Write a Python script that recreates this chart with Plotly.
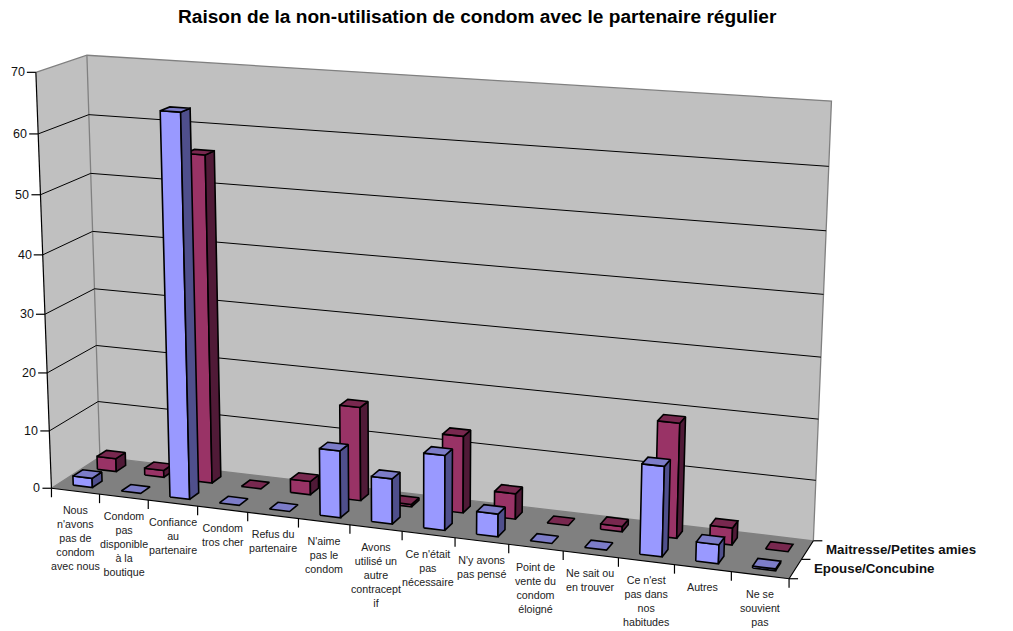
import numpy as np
import plotly.graph_objects as go

TITLE = "Raison de la non-utilisation de condom avec le partenaire régulier"
categories = [
    "Nous<br>n'avons<br>pas de<br>condom<br>avec nous",
    "Condom<br>pas<br>disponible<br>à la<br>boutique",
    "Confiance<br>au<br>partenaire",
    "Condom<br>tros cher",
    "Refus du<br>partenaire",
    "N'aime<br>pas le<br>condom",
    "Avons<br>utilisé un<br>autre<br>contracept<br>if",
    "Ce n'était<br>pas<br>nécessaire",
    "N'y avons<br>pas pensé",
    "Point de<br>vente du<br>condom<br>éloigné",
    "Ne sait ou<br>en trouver",
    "Ce n'est<br>pas dans<br>nos<br>habitudes",
    "Autres",
    "Ne se<br>souvient<br>pas",
]
epouse = [1.6, 0, 64.6, 0, 0, 11.3, 7.6, 12.5, 3.8, 0, 0, 14.7, 3.1, 0.3]
maitresse = [2.3, 1.2, 56, 0, 2.3, 16, 0.4, 13, 4.3, 0, 0.9, 19, 2.8, 0]
series_names = ["Epouse/Concubine", "Maitresse/Petites amies"]
z_ticks = [0, 10, 20, 30, 40, 50, 60, 70]

# Camera calibration: frame reference points (category pos, series pos, value) -> page pixel
cal_world = [(0,0,0),(0,0,10),(0,0,20),(0,0,30),(0,0,40),(0,0,50),(0,0,60),(0,0,70),
             (0,2,0),(0,2,50),(0,2,60),(0,2,70),(14,2,0),(14,2,10),(14,2,20),(14,2,60),(14,2,70),
             (1,0,0),(2,0,0),(3,0,0),(4,0,0),(5,0,0),(6,0,0),(7,0,0),(8,0,0),(9,0,0),(10,0,0),
             (11,0,0),(12,0,0),(13,0,0),(14,0,0),(14,1,0)]
cal_px = [(52,487),(50,430),(47.5,372),(45,314),(43,254),(41,194),(38,134),(35,73),
          (99,458),(91,174),(88,115),(87,55),(814,539),(816,480),(818,419),(829,167),(832,101),
          (100,494),(148,501),(198,507),(248,512),(298,519),(350,525),(402,532),(455,538),(508,545),(563,552),
          (618,558),(674,565),(731,572),(789,578),(802,559)]

def fit_projection(world, px):
    W = np.array(world, float); U = np.array(px, float)
    ws, us = W.max(0), U.max(0)
    W2, U2 = W / ws, U / us
    rows = []
    for (a, b, c), (u, v) in zip(W2, U2):
        rows.append([a, b, c, 1, 0, 0, 0, 0, -u*a, -u*b, -u*c, -u])
        rows.append([0, 0, 0, 0, a, b, c, 1, -v*a, -v*b, -v*c, -v])
    P = np.linalg.svd(np.array(rows))[2][-1].reshape(3, 4)
    return np.diag([us[0], us[1], 1]) @ P @ np.diag([1/ws[0], 1/ws[1], 1/ws[2], 1])

P = fit_projection(cal_world, cal_px)

def pr(x, y, z):
    h = P @ np.array([x, y, z, 1.0])
    return h[0]/h[2], h[1]/h[2]

def poly_xy(polys, close=True):
    xs, ys = [], []
    for pts in polys:
        q = [pr(*p) for p in pts]
        if close:
            q.append(q[0])
        xs += [a for a, _ in q] + [None]
        ys += [b for _, b in q] + [None]
    return xs, ys

fig = go.Figure()

def add_fill(polys, fill, line="rgba(0,0,0,0)", width=0, name=None):
    x, y = poly_xy(polys)
    fig.add_trace(go.Scatter(x=x, y=y, mode="lines", fill="toself", fillcolor=fill,
                             line=dict(color=line, width=width), name=name, hoverinfo="skip"))

def add_lines(segs, color, width):
    x, y = poly_xy(segs, close=False)
    fig.add_trace(go.Scatter(x=x, y=y, mode="lines", line=dict(color=color, width=width), hoverinfo="skip"))

N = len(categories)
ZM = z_ticks[-1]
add_fill([[(0,0,0),(0,0,ZM),(0,2,ZM),(0,2,0)], [(0,2,0),(0,2,ZM),(N,2,ZM),(N,2,0)]], "#C0C0C0")
add_fill([[(0,0,0),(0,2,0),(N,2,0),(N,0,0)]], "#808080")
add_lines([[(0,2,0),(0,2,ZM)], [(0,0,ZM),(0,2,ZM),(N,2,ZM),(N,2,0)], [(0,0,0),(0,2,0),(N,2,0)]], "#808080", 1.3)
add_lines([[(0,0,z),(0,2,z),(N,2,z)] for z in z_ticks[1:-1]], "#000000", 1)
add_lines([[(0,0,0),(0,0,ZM)], [(0,0,0),(N,0,0),(N,2,0)]], "#000000", 1.2)

# tick marks
tx, ty = [], []
for z in z_ticks:
    a, b = pr(0, 0, z); tx += [a-9, a, None]; ty += [b, b, None]
for i in range(N+1):
    a, b = pr(i, 0, 0); tx += [a, a, None]; ty += [b, b+9, None]
for s in range(3):
    a, b = pr(N, s, 0); tx += [a, a+9, None]; ty += [b, b, None]
fig.add_trace(go.Scatter(x=tx, y=ty, mode="lines", line=dict(color="#000000", width=1.2), hoverinfo="skip"))

GAP = 0.3
COLORS = [dict(front="#9999FF", top="#7C7CC8", side="#4F4F8C"),
          dict(front="#993366", top="#78284F", side="#501A37")]
for s, vals in reversed(list(enumerate([epouse, maitresse]))):
    fronts, tops, sides = [], [], []
    y0, y1 = s + GAP, s + 1 - GAP
    for i, v in enumerate(vals):
        x0, x1 = i + GAP, i + 1 - GAP
        if v > 0:
            fronts.append([(x0,y0,0),(x1,y0,0),(x1,y0,v),(x0,y0,v)])
            sides.append([(x1,y0,0),(x1,y1,0),(x1,y1,v),(x1,y0,v)])
        tops.append([(x0,y0,v),(x1,y0,v),(x1,y1,v),(x0,y1,v)])
    c = COLORS[s]
    add_fill(fronts, c["front"], "#000000", 1.6, series_names[s])
    add_fill(sides, c["side"], "#000000", 1.6, series_names[s])
    add_fill(tops, c["top"], "#000000", 1.6, series_names[s])

FONT = "Liberation Sans, Arial, sans-serif"
ann = []
for z in z_ticks:
    a, b = pr(0, 0, z)
    ann.append(dict(x=a-10, y=b, text=str(z), xanchor="right", yanchor="middle", font=dict(size=12.5, color="#111")))
for i, c in enumerate(categories):
    a, b = pr(i+0.5, 0, 0)
    ann.append(dict(x=a, y=b+12, text=c, xanchor="center", yanchor="top", align="center", font=dict(size=10.7, color="#222")))
for s, name in enumerate(series_names):
    a, b = pr(N, s+0.5, 0)
    ann.append(dict(x=a+18, y=b, text="<b>"+name+"</b>", xanchor="left", yanchor="middle", font=dict(size=13.3, color="#111")))
ann.append(dict(x=477, y=16, text="<b>"+TITLE+"</b>", xanchor="center", yanchor="middle", font=dict(size=19.1, color="#000")))
for a in ann:
    a.update(xref="x", yref="y", showarrow=False, borderpad=0)

fig.update_layout(width=1013, height=631, margin=dict(l=0, r=0, t=0, b=0), paper_bgcolor="white", plot_bgcolor="white",
                  showlegend=False, annotations=ann, font=dict(family=FONT),
                  xaxis=dict(range=[0, 1013], visible=False), yaxis=dict(range=[631, 0], visible=False))
fig.write_html("out.html", config=dict(displayModeBar=False),
               post_script="document.body.style.margin='0';document.body.style.overflow='hidden';")
